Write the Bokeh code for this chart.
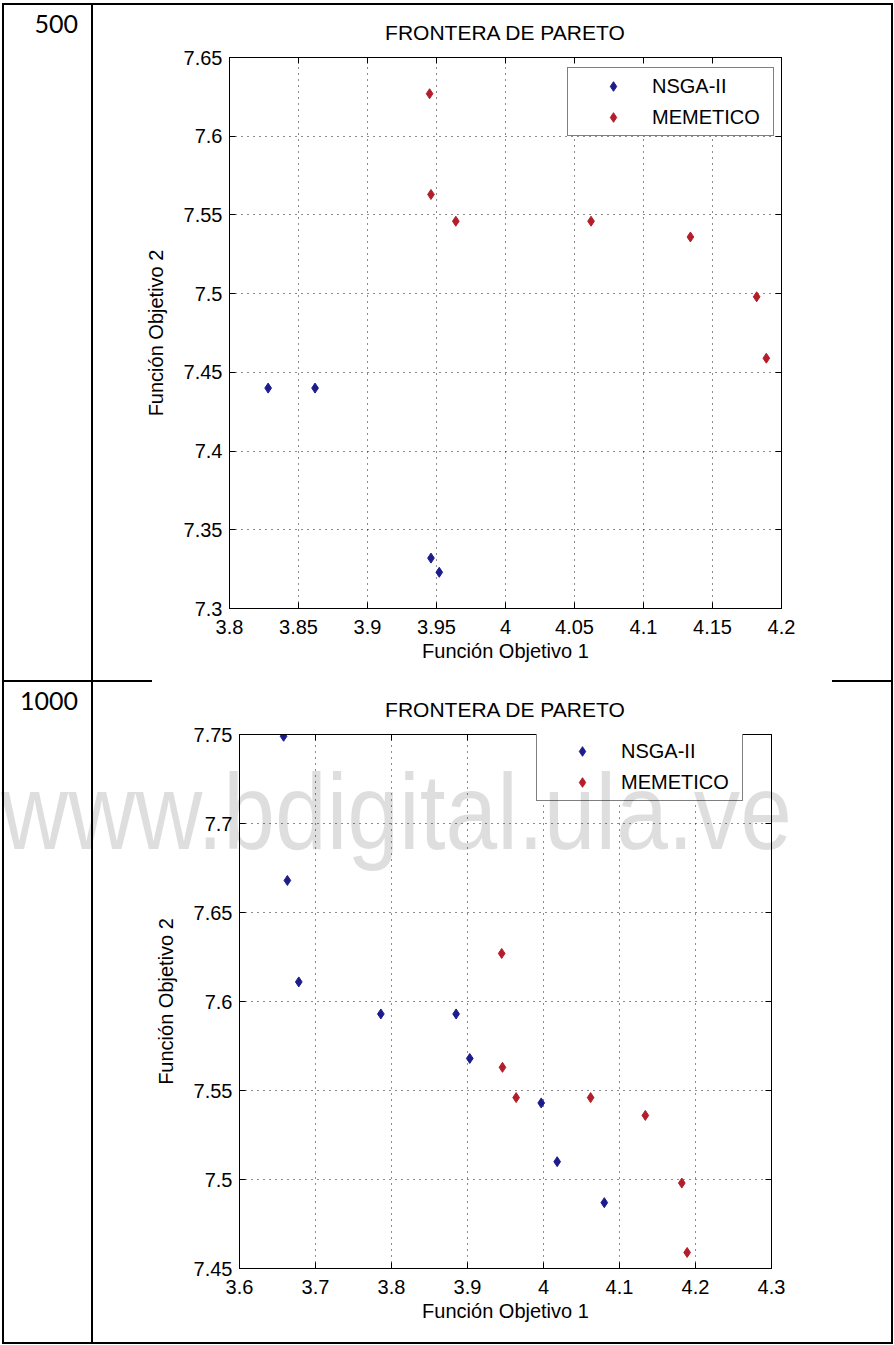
from bokeh.plotting import figure
from bokeh.models import (Div, LinearAxis, FixedTicker, CustomJSTickFormatter,
                          Range1d, Legend)
from bokeh.layouts import column, row
from bokeh.embed import file_html
from bokeh.resources import INLINE

# ---------------- data ----------------
cell_labels = ["500", "1000"]
title_text = "FRONTERA DE PARETO"
x_label = "Función Objetivo 1"
y_label = "Función Objetivo 2"
series_names = ["NSGA-II", "MEMETICO"]
watermark = "www.bdigital.ula.ve"

# run with 500 generations
x1_ticks = [3.8, 3.85, 3.9, 3.95, 4.0, 4.05, 4.1, 4.15, 4.2]
y1_ticks = [7.3, 7.35, 7.4, 7.45, 7.5, 7.55, 7.6, 7.65]
x1_nsga = [3.828, 3.862, 3.946, 3.952]
y1_nsga = [7.440, 7.440, 7.332, 7.323]

# run with 1000 generations
x2_ticks = [3.6, 3.7, 3.8, 3.9, 4.0, 4.1, 4.2, 4.3]
y2_ticks = [7.45, 7.5, 7.55, 7.6, 7.65, 7.7, 7.75]
x2_nsga = [3.658, 3.663, 3.678, 3.786, 3.885, 3.903, 3.997, 4.018, 4.080]
y2_nsga = [7.749, 7.668, 7.611, 7.593, 7.593, 7.568, 7.543, 7.510, 7.487]

# memetic front (same in both runs)
x_meme = [3.945, 3.946, 3.964, 4.062, 4.134, 4.182, 4.189]
y_meme = [7.627, 7.563, 7.546, 7.546, 7.536, 7.498, 7.459]

# ---------------- style / geometry ----------------
FONT = "Liberation Sans"
WM_SIZE = 93
BLUE = "#1c1c8e"
RED = "#b41e2a"
LINE = 2
ROOT_X, ROOT_Y = 2, 3
LEFT_W = 87
RIGHT_W = 798
ROW1_H = 675
ROW2_H = 660
ROW1_TOP = ROOT_Y + LINE
ROW2_TOP = ROW1_TOP + ROW1_H + LINE
CELL_LEFT = ROOT_X + LINE
WM_LEFT = 1         # page x of watermark start
WM_BASE = 850       # page y of watermark baseline


def bar(w, h, color="black"):
    return Div(width=w, height=h, margin=0, styles={"background-color": color})


def fmt():
    return CustomJSTickFormatter(code="return String(Math.round(tick*1000)/1000);")


def make_plot(xr, yr, xt, yt, xn, yn, w, h, bl, br, bt, bb, leg_xy):
    p = figure(width=w, height=h, x_range=Range1d(*xr), y_range=Range1d(*yr),
               output_backend="svg", toolbar_location=None,
               min_border_left=bl, min_border_right=br,
               min_border_top=bt, min_border_bottom=bb, margin=0)
    p.background_fill_color = "white"
    p.border_fill_color = "white"
    p.outline_line_color = "black"
    p.outline_line_width = 1

    p.title.text = title_text
    p.title.align = "center"
    p.title.text_font = FONT
    p.title.text_font_size = "21px"
    p.title.text_font_style = "normal"
    p.title.text_color = "black"
    p.title.standoff = 27

    p.xaxis.ticker = FixedTicker(ticks=xt)
    p.yaxis.ticker = FixedTicker(ticks=yt)
    p.xgrid.ticker = FixedTicker(ticks=xt)
    p.ygrid.ticker = FixedTicker(ticks=yt)
    p.xaxis.formatter = fmt()
    p.yaxis.formatter = fmt()
    p.xaxis.axis_label = x_label
    p.yaxis.axis_label = y_label
    for ax in (p.xaxis[0], p.yaxis[0]):
        ax.major_label_text_font = FONT
        ax.major_label_text_font_size = "20px"
        ax.major_label_text_color = "black"
        ax.axis_label_text_font = FONT
        ax.axis_label_text_font_size = "20px"
        ax.axis_label_text_font_style = "normal"
        ax.axis_label_text_color = "black"
        ax.major_tick_in = 6
        ax.major_tick_out = 0
        ax.minor_tick_in = 0
        ax.minor_tick_out = 0
        ax.axis_line_color = "black"
        ax.major_tick_line_color = "black"
    p.xaxis.major_label_standoff = 11
    p.yaxis.major_label_standoff = 7
    p.xaxis.axis_label_standoff = 3
    p.yaxis.axis_label_standoff = 14

    for loc, ticks in (("above", xt), ("right", yt)):
        ax = LinearAxis(ticker=FixedTicker(ticks=ticks),
                        formatter=CustomJSTickFormatter(code="return '';"),
                        major_tick_in=6, major_tick_out=0,
                        minor_tick_in=0, minor_tick_out=0,
                        major_label_standoff=0,
                        axis_line_color="black", major_tick_line_color="black")
        p.add_layout(ax, loc)

    p.grid.grid_line_color = "black"
    p.grid.grid_line_dash = "1 5"
    p.grid.grid_line_width = 1
    p.grid.grid_line_alpha = 0.9

    r1 = p.scatter(xn, yn, marker="diamond", size=10, color=BLUE)
    r2 = p.scatter(x_meme, y_meme, marker="diamond", size=10, color=RED)
    leg = Legend(items=[(series_names[0], [r1]), (series_names[1], [r2])],
                 location=leg_xy, margin=0, padding=6, spacing=7,
                 glyph_width=78, glyph_height=24, label_height=24,
                 label_width=115, label_standoff=0,
                 label_text_font=FONT, label_text_font_size="20px",
                 label_text_color="black",
                 border_line_color="black", border_line_width=1,
                 background_fill_color="white", background_fill_alpha=1)
    p.add_layout(leg)
    return p


def cell_div(w, h, txt, row_top, wm=False):
    # label baseline ~28px below the row top (Lato 25px, line-height 25px)
    inner = (f'<div style="position:absolute;right:13px;top:6px;'
             f'font-family:Lato;font-size:25px;line-height:25px;color:#000;">{txt}</div>')
    if wm:
        # Liberation Sans: baseline sits ~0.846 em below the top of a 1em line box
        base_in_box = 0.846 * WM_SIZE
        top = round((WM_BASE - row_top) - base_in_box)
        inner += (f'<div style="position:absolute;left:{WM_LEFT - CELL_LEFT}px;top:{top}px;'
                  f"font-family:'Liberation Sans';"
                  f'font-size:{WM_SIZE}px;line-height:{WM_SIZE}px;white-space:nowrap;'
                  f'transform:scaleY(1.15);transform-origin:0 {base_in_box:.1f}px;'
                  f'pointer-events:none;color:rgba(0,0,0,0.13);z-index:20;">{watermark}</div>')
    html = (f'<div style="position:relative;width:{w}px;height:{h}px;overflow:visible;">'
            f'{inner}</div>')
    styles = {"overflow": "visible", "position": "relative"}
    if wm:
        styles["z-index"] = "20"
    return Div(text=html, width=w, height=h, margin=0, styles=styles)


p1 = make_plot((3.8, 4.2), (7.3, 7.65), x1_ticks, y1_ticks, x1_nsga, y1_nsga,
               RIGHT_W, ROW1_H, 136, RIGHT_W - 136 - 552, 52, ROW1_H - 52 - 551,
               (338, 472))
p2 = make_plot((3.6, 4.3), (7.45, 7.75), x2_ticks, y2_ticks, x2_nsga, y2_nsga,
               RIGHT_W, ROW2_H, 146, RIGHT_W - 146 - 532, 52, ROW2_H - 52 - 534,
               (297, 467))

c1 = cell_div(LEFT_W, ROW1_H, cell_labels[0], ROW1_TOP)
c2 = cell_div(LEFT_W, ROW2_H, cell_labels[1], ROW2_TOP, wm=True)

TOTAL_W = LINE + LEFT_W + LINE + RIGHT_W + LINE

layout = column(
    bar(TOTAL_W, LINE),
    row(bar(LINE, ROW1_H), c1, bar(LINE, ROW1_H), p1, bar(LINE, ROW1_H),
        spacing=0, margin=0),
    row(bar(150, LINE), bar(680, LINE, "white"), bar(TOTAL_W - 150 - 680, LINE),
        spacing=0, margin=0),
    row(bar(LINE, ROW2_H), c2, bar(LINE, ROW2_H), p2, bar(LINE, ROW2_H),
        spacing=0, margin=0),
    bar(TOTAL_W, LINE),
    spacing=0,
    margin=(ROOT_Y, 0, 0, ROOT_X),
)

open("out.html", "w").write(file_html(layout, INLINE, title="Frontera de Pareto"))
